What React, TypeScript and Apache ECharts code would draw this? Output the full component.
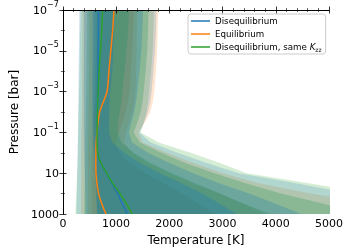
import React, { useEffect, useRef } from "react";
import * as echarts from "echarts";

// Pressure levels [bar]
const PRESSURE_BAR = [1e-7, 1e-6, 1e-5, 1e-4, 1e-3, 3.16e-3, 1e-2, 3.16e-2, 0.1, 0.316, 1, 3.16, 10, 31.6, 100, 316, 1000];

// Median temperature profiles [K]
const T_DISEQ = [670, 668, 665, 660, 655, 650, 647, 643, 640, 640, 650, 705, 820, 920, 1030, 1120, 1210];
const T_EQ = [960, 935, 900, 865, 830, 760, 690, 660, 640, 625, 620, 618, 622, 640, 670, 730, 810];
const T_DISEQ_KZZ = [745, 730, 705, 680, 662, 655, 650, 645, 642, 643, 655, 712, 825, 935, 1075, 1195, 1305];

// Percentile bands: cold (c) and hot (h) edges [K]
const DISEQ_3C = [308, 305, 300, 296, 292, 290, 288, 285, 282, 280, 277, 274, 270, 266, 262, 258, 255];
const DISEQ_3H = [1758, 1750, 1730, 1700, 1667, 1640, 1600, 1530, 1440, 1650, 2150, 2700, 3300, 4400, 5400, 6600, 7800];
const DISEQ_2C = [400, 398, 396, 394, 392, 392, 392, 393, 395, 398, 402, 406, 410, 415, 420, 425, 429];
const DISEQ_2H = [1504, 1495, 1475, 1440, 1400, 1375, 1340, 1290, 1240, 1300, 1600, 2000, 2450, 2950, 3500, 4000, 4475];
const DISEQ_1C = [560, 558, 556, 554, 552, 552, 553, 555, 560, 568, 578, 590, 602, 614, 625, 633, 640];
const DISEQ_1H = [973, 965, 950, 930, 890, 880, 870, 865, 870, 930, 1150, 1450, 1820, 2240, 2620, 2950, 3260];

const EQ_3C = [368, 366, 364, 362, 360, 358, 355, 352, 350, 348, 346, 345, 344, 343, 342, 340, 339];
const EQ_3H = [1788, 1782, 1770, 1750, 1716, 1690, 1640, 1540, 1420, 1500, 1950, 2450, 3000, 3700, 4650, 5800, 7000];
const EQ_2C = [500, 498, 495, 492, 490, 487, 484, 480, 476, 473, 471, 470, 470, 470, 470, 470, 470];
const EQ_2H = [1395, 1390, 1385, 1375, 1365, 1345, 1310, 1250, 1180, 1150, 1300, 1600, 2000, 2450, 2950, 3400, 3800];
const EQ_1C = [634, 630, 625, 618, 610, 595, 575, 560, 550, 545, 542, 540, 540, 541, 543, 546, 549];
const EQ_1H = [1335, 1320, 1300, 1275, 1250, 1220, 1180, 1120, 1050, 1000, 1050, 1250, 1550, 1900, 2250, 2550, 2850];

const KZZ_3C = [330, 325, 318, 312, 305, 300, 296, 292, 288, 284, 280, 274, 268, 260, 252, 244, 236];
const KZZ_3H = [1709, 1700, 1685, 1655, 1620, 1600, 1570, 1520, 1460, 1800, 2400, 2950, 3450, 4650, 5800, 7000, 8300];
const KZZ_2C = [458, 455, 450, 445, 440, 437, 434, 430, 426, 422, 419, 416, 413, 410, 406, 403, 400];
const KZZ_2H = [1607, 1600, 1585, 1555, 1517, 1495, 1460, 1400, 1330, 1450, 1850, 2300, 2850, 3450, 4100, 4900, 5800];
const KZZ_1C = [600, 597, 594, 590, 586, 584, 583, 583, 585, 590, 597, 606, 615, 624, 632, 639, 645];
const KZZ_1H = [1245, 1225, 1195, 1160, 1120, 1095, 1070, 1040, 1030, 1100, 1330, 1650, 2050, 2500, 2950, 3400, 3900];

const NAMES = ["Disequilibrium", "Equilibrium", "Disequilibrium, same Kzz"];
const COLORS = ["#1f77b4", "#ff7f0e", "#2ca02c"];
const X_TICKS = [0, 1000, 2000, 3000, 4000, 5000];
const Y_EXP_MIN = -7;
const Y_EXP_MAX = 3;
// fill opacity of the 3-sigma, 2-sigma and 1-sigma bands
const BAND_ALPHA = [0.2, 0.27, 0.33];

const FONT = "DejaVu Sans";

function rgba(hex: string, a: number) {
  const n = parseInt(hex.slice(1), 16);
  return `rgba(${(n >> 16) & 255},${(n >> 8) & 255},${n & 255},${a})`;
}

export default function App() {
  const ref = useRef<HTMLDivElement>(null);
  useEffect(() => {
    document.body.style.margin = "0";
    const chart = echarts.init(ref.current!, null, { renderer: "svg" });
    const yPos = PRESSURE_BAR.map((p) => Math.log10(p) - Y_EXP_MIN);
    // draw order: equilibrium, same-Kzz, disequilibrium (on top)
    const bands = [
      { color: COLORS[1], a: BAND_ALPHA[0], cold: EQ_3C, hot: EQ_3H },
      { color: COLORS[1], a: BAND_ALPHA[1], cold: EQ_2C, hot: EQ_2H },
      { color: COLORS[1], a: BAND_ALPHA[2], cold: EQ_1C, hot: EQ_1H },
      { color: COLORS[2], a: BAND_ALPHA[0], cold: KZZ_3C, hot: KZZ_3H },
      { color: COLORS[2], a: BAND_ALPHA[1], cold: KZZ_2C, hot: KZZ_2H },
      { color: COLORS[2], a: BAND_ALPHA[2], cold: KZZ_1C, hot: KZZ_1H },
      { color: COLORS[0], a: BAND_ALPHA[0], cold: DISEQ_3C, hot: DISEQ_3H },
      { color: COLORS[0], a: BAND_ALPHA[1], cold: DISEQ_2C, hot: DISEQ_2H },
      { color: COLORS[0], a: BAND_ALPHA[2], cold: DISEQ_1C, hot: DISEQ_1H },
    ];
    const medians = [T_DISEQ, T_EQ, T_DISEQ_KZZ];
    const xMax = X_TICKS[X_TICKS.length - 1];
    const yMax = Y_EXP_MAX - Y_EXP_MIN;

    const axisLine = { show: true, lineStyle: { color: "#000", width: 1 } };
    const tick = { show: true, inside: true, length: 3.5, lineStyle: { color: "#000", width: 0.8 } };
    const minor = (n: number) => ({ show: true, splitNumber: n, length: 2, lineStyle: { color: "#000", width: 0.6 } });

    const option: any = {
      animation: false,
      textStyle: { fontFamily: FONT },
      grid: { left: 53, right: 19, top: 9, bottom: 37, containLabel: false },
      xAxis: [
        {
          type: "value", min: X_TICKS[0], max: xMax, interval: 1000, position: "bottom",
          axisLine, axisTick: tick, minorTick: minor(5),
          splitLine: { show: false },
          axisLabel: { color: "#000", fontSize: 11, margin: 4, fontFamily: FONT, formatter: (v: number) => String(v) },
          name: "Temperature [K]", nameLocation: "middle", nameGap: 19,
          nameTextStyle: { color: "#000", fontSize: 12, fontFamily: FONT },
          z: 10,
        },
        {
          type: "value", min: X_TICKS[0], max: xMax, interval: 1000, position: "top",
          axisLine, axisTick: tick, minorTick: minor(5),
          splitLine: { show: false }, axisLabel: { show: false }, z: 10,
        },
      ],
      yAxis: [
        {
          type: "value", min: 0, max: yMax, interval: 2, inverse: true, position: "left",
          axisLine, axisTick: tick, minorTick: minor(2),
          splitLine: { show: false },
          axisLabel: {
            color: "#000", fontSize: 11, margin: 4, fontFamily: FONT, lineHeight: 20,
            formatter: (v: number) => {
              const e = Math.round(v) + Y_EXP_MIN;
              if (e === 1) return "10";
              if (e === 3) return "1000";
              return `10{sup|${e < 0 ? "\u2212" : ""}${Math.abs(e)}}`;
            },
            rich: { sup: { fontSize: 8, lineHeight: 8, verticalAlign: "top", color: "#000", fontFamily: FONT } },
          },
          name: "Pressure [bar]", nameLocation: "middle", nameGap: 37,
          nameTextStyle: { color: "#000", fontSize: 12, fontFamily: FONT },
          z: 10,
        },
        {
          type: "value", min: 0, max: yMax, interval: 2, inverse: true, position: "right",
          axisLine, axisTick: tick, minorTick: minor(2),
          splitLine: { show: false }, axisLabel: { show: false }, z: 10,
        },
      ],
      legend: {
        data: NAMES, left: 188, top: 14, orient: "vertical",
        icon: "rect", itemWidth: 19, itemHeight: 1.5, itemGap: 2,
        padding: [1.5, 4, 1.5, 3],
        backgroundColor: "rgba(255,255,255,0.8)", borderColor: "#cccccc", borderWidth: 1, borderRadius: 3,
        selectedMode: false,
        textStyle: {
          fontSize: 8.7, color: "#000", fontFamily: FONT, lineHeight: 11,
          rich: {
            k: { fontSize: 8.7, fontStyle: "italic", color: "#000", fontFamily: FONT, lineHeight: 11 },
            z: { fontSize: 6, color: "#000", fontFamily: FONT, lineHeight: 6, verticalAlign: "bottom" },
          },
        },
        formatter: (name: string) => (name === NAMES[2] ? "Disequilibrium, same {k|K}{z|zz}" : name),
        z: 20,
      },
      series: [
        {
          type: "custom", name: "bands", clip: true, silent: true, z: 1,
          data: bands.map((_, i) => [i, 0]),
          renderItem: (params: any, api: any) => {
            const b = bands[params.dataIndex];
            const pts: number[][] = [];
            for (let i = 0; i < yPos.length; i++) pts.push(api.coord([b.cold[i], yPos[i]]));
            for (let i = yPos.length - 1; i >= 0; i--) pts.push(api.coord([b.hot[i], yPos[i]]));
            return { type: "polygon", shape: { points: pts }, style: { fill: rgba(b.color, b.a), stroke: "none" } };
          },
        },
        ...medians.map((arr, k) => ({
          type: "line", name: NAMES[k], z: 3,
          data: arr.map((t, i) => [t, yPos[i]]),
          showSymbol: false, symbol: "none", smooth: 0.3,
          lineStyle: { color: COLORS[k], width: 1.5 },
          itemStyle: { color: COLORS[k] },
        })),
      ],
    };
    chart.setOption(option);
    return () => chart.dispose();
  }, []);
  return <div ref={ref} style={{ position: "fixed", left: 0, top: 0, width: 348, height: 251 }} />;
}
